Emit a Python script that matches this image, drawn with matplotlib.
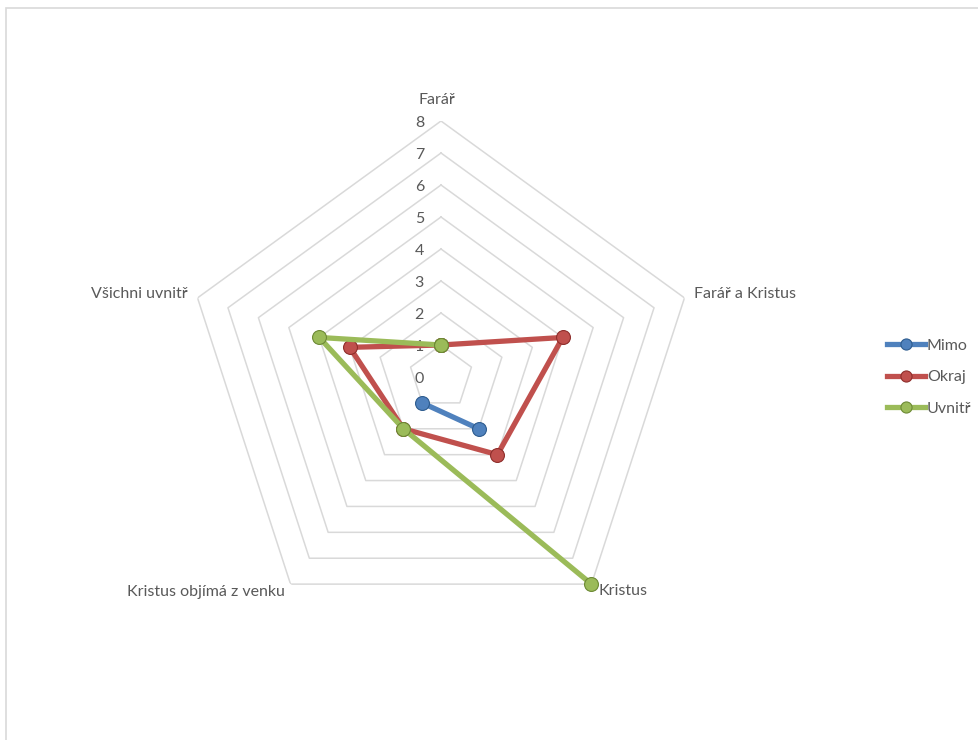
import numpy as np
import matplotlib
matplotlib.use('Agg')
import matplotlib.pyplot as plt
from matplotlib.patches import Rectangle

plt.rcParams['font.family'] = ['Lato', 'DejaVu Sans']

# categories and series (NaN = empty cell)
categories = ['Farář', 'Farář a Kristus', 'Kristus', 'Kristus objímá z venku', 'Všichni uvnitř']
mimo = [np.nan, np.nan, 2, 1, np.nan]
okraj = [1, 4, 3, 2, 3]
uvnitr = [1, np.nan, 8, 2, 4]
ticks = [0, 1, 2, 3, 4, 5, 6, 7, 8]

series = [('Mimo', mimo, '#4F81BD', '#2E5C8F'),
          ('Okraj', okraj, '#C0504D', '#8E2E2B'),
          ('Uvnitř', uvnitr, '#9BBB59', '#6D8A35')]

text_col = '#595959'
fs = 11.5

fig = plt.figure(figsize=(9.79, 7.4), dpi=100)
fig.patch.set_facecolor('white')

# chart area border (only top/left visible in reference)
fig.patches.append(Rectangle((6 / 979, -0.1), 1.2, (740 - 8) / 740 + 0.1,
                             transform=fig.transFigure, fill=False,
                             edgecolor='#D9D9D9', lw=1.2))

ax = fig.add_axes([185 / 979, 107 / 740, 512 / 979, 512 / 740], projection='polar')
ax.set_theta_zero_location('N')
ax.set_theta_direction(-1)
ax.set_ylim(0, 8)
ax.grid(False)
ax.spines['polar'].set_visible(False)
ax.set_xticks([])
ax.set_yticks([])
ax.patch.set_alpha(0)

n = len(categories)
angles = np.linspace(0, 2 * np.pi, n, endpoint=False)
closed = np.concatenate([angles, angles[:1]])

# pentagon gridlines
for r in ticks[1:]:
    ax.plot(closed, [r] * (n + 1), color='#D9D9D9', lw=1.1, zorder=1)

# value labels along the top axis
for r in ticks:
    ax.annotate(str(r), (0, r), xytext=(-17, -2), textcoords='offset pixels',
                ha='right', va='center', color=text_col, fontsize=fs)

# category labels
offsets = [((-4, 21), 'center', 'center'),
           ((10, 4), 'left', 'center'),
           ((7, -7), 'left', 'center'),
           ((-6, -8), 'right', 'center'),
           ((-10, 4), 'right', 'center')]
for a, lab, (off, ha, va) in zip(angles, categories, offsets):
    ax.annotate(lab, (a, 8), xytext=off, textcoords='offset pixels',
                ha=ha, va=va, color=text_col, fontsize=fs)

handles = []
for i, (name, vals, col, edge) in enumerate(series):
    v = np.array(vals + vals[:1], dtype=float)
    h, = ax.plot(closed, v, color=col, lw=3.8, marker='o', markersize=10,
                 markerfacecolor=col, markeredgecolor=edge, markeredgewidth=0.8,
                 label=name, zorder=3 + i, clip_on=False)
    handles.append(h)

leg = fig.legend(handles=handles, loc='center left', bbox_to_anchor=(881 / 979, 1 - 377 / 740),
                 frameon=False, fontsize=fs, handlelength=2.35, handletextpad=0.12,
                 labelspacing=1.08, labelcolor=text_col, borderaxespad=0, markerscale=0.8)

fig.savefig('out.png', dpi=100, facecolor='white')
